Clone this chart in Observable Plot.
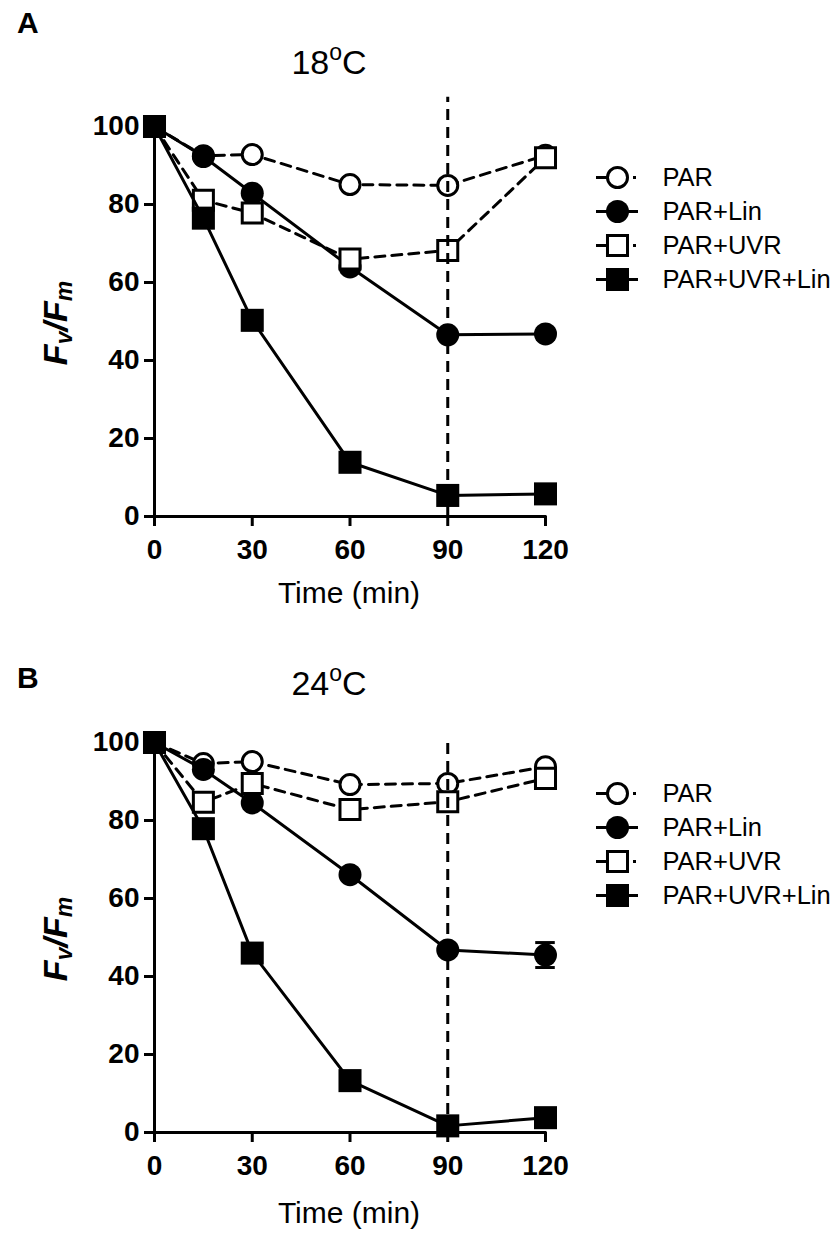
<!DOCTYPE html>
<html><head><meta charset="utf-8">
<script src="https://cdn.jsdelivr.net/npm/d3@7"></script>
<script src="https://cdn.jsdelivr.net/npm/@observablehq/plot@0.6"></script>
<style>
html,body{margin:0;padding:0;background:#fff;}
#fig{position:relative;width:839px;height:1235px;overflow:hidden;font-family:"Liberation Sans",Arial,sans-serif;}
#fig > svg{position:absolute;}
</style></head><body><div id="fig"></div>
<script>
// ---- data ----
const times = [0, 15, 30, 60, 90, 120];
const seriesNames = ["PAR", "PAR+Lin", "PAR+UVR", "PAR+UVR+Lin"];
const panelLetters = ["A", "B"];
const panelTemps = ["18", "24"];
const xTicks = [0, 30, 60, 90, 120];
const yTicks = [0, 20, 40, 60, 80, 100];
const refTime = 90;
const refLineTop = [107.5, 101];

// Panel A (18 °C)
const a_PAR       = [100, 92.5, 92.8, 85.1, 84.9, 92.6];
const a_PARLin    = [100, 92.3, 82.9, 64.0, 46.6, 46.8];
const a_PARUVR    = [100, 81.1, 77.8, 66.0, 68.2, 92.0];
const a_PARUVRLin = [100, 76.5, 50.3, 13.9, 5.4, 5.8];
// Panel B (24 °C)
const b_PAR       = [100, 94.6, 95.1, 89.2, 89.5, 93.8];
const b_PARLin    = [100, 93.1, 84.5, 66.1, 46.8, 45.5];
const b_PARUVR    = [100, 84.7, 89.5, 82.8, 84.8, 90.8];
const b_PARUVRLin = [100, 77.9, 46.0, 13.3, 1.7, 3.8];
// visible standard errors (others hidden by symbols)
const b_PARLin_err = [0, 0, 0, 0, 0, 3.2];

const panelValues = [
  [a_PAR, a_PARLin, a_PARUVR, a_PARUVRLin],
  [b_PAR, b_PARLin, b_PARUVR, b_PARUVRLin]
];
const panelErrors = [
  [null, null, null, null],
  [null, b_PARLin_err, null, null]
];

// ---- styles ----
const symbols = ["circle", "circle", "square", "square"];
const filled = [false, true, false, true];
const dashed = [true, false, true, false];
const radius = [10, 11.5, 11.3, 13];
const capHalf = 3; // error-bar cap half width (minutes)
const FONT = "Liberation Sans, Arial, sans-serif";

const fig = document.getElementById("fig");
const panelTop = [0, 616];

function buildPanel(p) {
  const marks = [];
  // axes lines
  marks.push(Plot.ruleX([0], {stroke: "black", strokeWidth: 3}));
  marks.push(Plot.ruleY([0], {stroke: "black", strokeWidth: 3, strokeLinecap: "square"}));
  marks.push(Plot.axisX({ticks: xTicks, tickSize: 10, tickPadding: 13, strokeWidth: 3,
    fontSize: 28, fontWeight: "bold", fontFamily: FONT, label: null, tickFormat: d => String(d)}));
  marks.push(Plot.axisY({ticks: yTicks, tickSize: 10, tickPadding: 5, strokeWidth: 3,
    fontSize: 28, fontWeight: "bold", fontFamily: FONT, label: null, tickFormat: d => String(d)}));
  seriesNames.forEach((s, k) => {
    const vals = panelValues[p][k];
    const rows = times.map((t, i) => ({t, v: vals[i], e: panelErrors[p][k] ? panelErrors[p][k][i] : 0}));
    marks.push(Plot.line(rows, {x: "t", y: "v", stroke: "black", strokeWidth: 3,
      strokeDasharray: dashed[k] ? "10,7" : null}));
    const errRows = rows.filter(d => d.e > 0);
    if (errRows.length) {
      marks.push(Plot.ruleX(errRows, {x: "t", y1: d => d.v - d.e, y2: d => d.v + d.e, stroke: "black", strokeWidth: 3}));
      marks.push(Plot.ruleY(errRows, {y: d => d.v - d.e, x1: d => d.t - capHalf, x2: d => d.t + capHalf, stroke: "black", strokeWidth: 3}));
      marks.push(Plot.ruleY(errRows, {y: d => d.v + d.e, x1: d => d.t - capHalf, x2: d => d.t + capHalf, stroke: "black", strokeWidth: 3}));
    }
    marks.push(Plot.dot(rows, {x: "t", y: "v", symbol: symbols[k], r: radius[k],
      fill: filled[k] ? "black" : "white", stroke: filled[k] ? "none" : "black", strokeWidth: 3}));
  });
  // reference line at 90 min, drawn over the data
  marks.push(Plot.ruleX([refTime], {y1: 0, y2: refLineTop[p], stroke: "black", strokeWidth: 3, strokeDasharray: "11,7"}));

  const svg = Plot.plot({
    width: 839, height: 617,
    marginLeft: 154, marginRight: 294, marginTop: 126, marginBottom: 101,
    x: {type: "linear", domain: [0, 120]},
    y: {type: "linear", domain: [0, 100]},
    style: {fontFamily: FONT, background: "transparent", overflow: "visible"},
    marks
  });
  svg.style.left = "0px";
  svg.style.top = panelTop[p] + "px";
  fig.appendChild(svg);

  // legend
  const legRows = seriesNames.map((s, k) => ({s, k}));
  const leg = Plot.plot({
    width: 259, height: 200, margin: 0,
    x: {domain: [0, 1], range: [16, 58], axis: null},
    y: {type: "point", domain: seriesNames, range: [30, 166], axis: null},
    style: {fontFamily: FONT, background: "transparent", overflow: "visible"},
    marks: [
      ...legRows.map(r => Plot.ruleY([r], {y: "s", x1: 0, x2: 1, stroke: "black", strokeWidth: 3,
        strokeDasharray: dashed[r.k] ? "12,25,3,10" : null})),
      ...legRows.map(r => Plot.dot([r], {x: 0.5, y: "s", symbol: symbols[r.k], r: radius[r.k],
        fill: filled[r.k] ? "black" : "white", stroke: filled[r.k] ? "none" : "black", strokeWidth: 3})),
      Plot.text(legRows, {x: 1, y: "s", text: "s", dx: 24, textAnchor: "start", fontSize: 25.5, fill: "black"})
    ]
  });
  leg.style.left = "580px";
  leg.style.top = (panelTop[p] + 130) + "px";
  fig.appendChild(leg);
}

buildPanel(0);
buildPanel(1);

// overlay texts: panel letters, titles, axis titles
const ov = d3.create("svg").attr("width", 839).attr("height", 1235)
  .style("left", "0px").style("top", "0px").style("font-family", FONT).attr("fill", "black");
const letterBase = [33, 688];
const titleBase = [74, 695];
const timeBase = [603, 1223];
[0, 1].forEach(p => {
  ov.append("text").attr("x", 17).attr("y", letterBase[p]).attr("font-size", 30)
    .attr("font-weight", "bold").text(panelLetters[p]);
  const t = ov.append("text").attr("x", 329).attr("y", titleBase[p]).attr("font-size", 34)
    .attr("text-anchor", "middle");
  t.append("tspan").text(panelTemps[p]);
  t.append("tspan").attr("font-size", 23).attr("dy", -14).text("o");
  t.append("tspan").attr("dy", 14).text("C");
  ov.append("text").attr("x", 349).attr("y", timeBase[p]).attr("font-size", 30)
    .attr("text-anchor", "middle").text("Time (min)");
  const yl = ov.append("text").attr("transform", `translate(67,${panelTop[p] + 323}) rotate(-90)`)
    .attr("text-anchor", "middle").attr("font-size", 34).attr("font-weight", "bold").attr("font-style", "italic");
  yl.append("tspan").text("F");
  yl.append("tspan").attr("font-size", 23).attr("dy", 5).text("v");
  yl.append("tspan").attr("dy", -5).text("/F");
  yl.append("tspan").attr("font-size", 23).attr("dy", 5).text("m");
});
fig.appendChild(ov.node());
</script>
</body></html>
